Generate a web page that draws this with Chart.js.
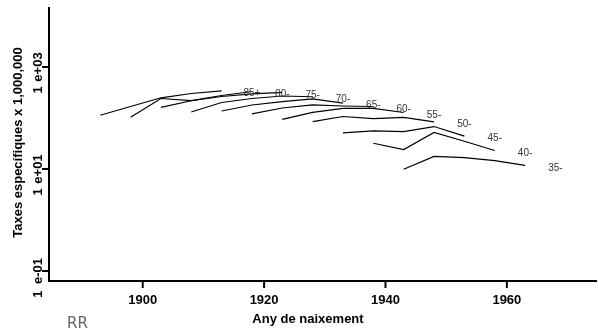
<!DOCTYPE html>
<html>
<head>
<meta charset="utf-8">
<script src="https://cdn.jsdelivr.net/npm/chart.js@4"></script>
<style>
html, body { margin:0; padding:0; background:#fff; }
canvas { display:block; }
</style>
</head>
<body>
<canvas id="apc" width="598" height="331"></canvas>
<script>
// age groups, cohort years (x) and rates per 1,000,000 (y)
var ageGroups = ['35-','40-','45-','50-','55-','60-','65-','70-','75-','80-','85+'];

var cohorts35 = [1943,1948,1953,1958,1963];
var cohorts40 = [1938,1943,1948,1953,1958];
var cohorts45 = [1933,1938,1943,1948,1953];
var cohorts50 = [1928,1933,1938,1943,1948];
var cohorts55 = [1923,1928,1933,1938,1943];
var cohorts60 = [1918,1923,1928,1933,1938];
var cohorts65 = [1913,1918,1923,1928,1933];
var cohorts70 = [1908,1913,1918,1923,1928];
var cohorts75 = [1903,1908,1913,1918,1923];
var cohorts80 = [1898,1903,1908,1913,1918];
var cohorts85 = [1893,1898,1903,1908,1913];

var rates35 = [9.9,17.6,16.7,14.6,11.8];
var rates40 = [32,24,52,35,23];
var rates45 = [51,56,54,68,44];
var rates50 = [85,107,97,103,84];
var rates55 = [94,129,154,155,128];
var rates60 = [120,157,180,172,168];
var rates65 = [137,180,209,236,195];
var rates70 = [131,201,241,270,261];
var rates75 = [162,218,264,296,319];
var rates80 = [103,241,220,276,331];
var rates85 = [113,168,249,302,341];

var xTicks = [1900,1920,1940,1960];
var yTicks = [0.1,10,1000];
var yTickLabels = ['e-01','e+01','e+03'];

var allCohorts = [cohorts35,cohorts40,cohorts45,cohorts50,cohorts55,cohorts60,cohorts65,cohorts70,cohorts75,cohorts80,cohorts85];
var allRates = [rates35,rates40,rates45,rates50,rates55,rates60,rates65,rates70,rates75,rates80,rates85];

var datasets = [];
ageGroups.forEach(function(g, i){
    var pts = [];
    for(var k = 0; k < allCohorts[i].length; k++){
        pts.push({x: allCohorts[i][k], y: allRates[i][k]});
    }
    datasets.push({
        label: g,
        data: pts,
        borderColor: '#000',
        borderWidth: 1.2,
        pointRadius: 0,
        tension: 0,
        fill: false
    });
});

var axesPlugin = {
    id: 'axesPlugin',
    afterDraw: function(chart){
        var c = chart.ctx;
        var xs = chart.scales.x, ys = chart.scales.y;
        var a = chart.chartArea;
        c.save();
        c.strokeStyle = '#000';
        c.fillStyle = '#000';
        c.lineWidth = 2;
        // axis lines
        c.beginPath();
        c.moveTo(a.left, a.top);
        c.lineTo(a.left, a.bottom);
        c.lineTo(a.right, a.bottom);
        c.stroke();

        // x ticks
        c.font = 'bold 13px "Liberation Sans", Arial, sans-serif';
        c.textAlign = 'center';
        c.textBaseline = 'middle';
        xTicks.forEach(function(t){
            var px = xs.getPixelForValue(t);
            c.beginPath();
            c.moveTo(px, a.bottom);
            c.lineTo(px, a.bottom + 7);
            c.stroke();
            c.fillText(String(t), px, 300);
        });

        // y ticks, rotated labels
        yTicks.forEach(function(t, i){
            var py = ys.getPixelForValue(t);
            c.beginPath();
            c.moveTo(a.left, py);
            c.lineTo(a.left - 7, py);
            c.stroke();
            c.save();
            c.translate(38, py);
            c.rotate(-Math.PI/2);
            c.fillText(yTickLabels[i], 0, 0);
            c.fillText('1', -23, 0);
            c.restore();
        });

        // titles
        c.fillText('Any de naixement', 308, 319);
        c.save();
        c.translate(18.5, 142.5);
        c.rotate(-Math.PI/2);
        c.fillText('Taxes específiques x 1,000,000', 0, 0);
        c.restore();

        // age group labels at end of each line
        c.font = '10px "Liberation Sans", Arial, sans-serif';
        c.fillStyle = '#333';
        ageGroups.forEach(function(g, i){
            var n = allCohorts[i].length - 1;
            var px = xs.getPixelForValue(allCohorts[i][n] + 5);
            var py = ys.getPixelForValue(allRates[i][n]) + 2.5;
            c.fillText(g, px, py);
        });

        c.font = '15px "DejaVu Sans", sans-serif';
        c.fillStyle = '#666';
        c.textAlign = 'left';
        c.fillText('RR', 67, 324);
        c.restore();
    }
};

var ctx = document.getElementById('apc').getContext('2d');
var apcChart = new Chart(ctx, {
    type: 'line',
    data: { datasets: datasets },
    options: {
        responsive: false,
        animation: false,
        layout: { padding: { left: 49, top: 7, right: 1, bottom: 50 } },
        plugins: { legend: { display: false }, tooltip: { enabled: false } },
        scales: {
            x: { type: 'linear', min: 1884.56, max: 1974.85, display: false },
            y: { type: 'logarithmic', min: 0.0637, max: 15000, display: false }
        }
    },
    plugins: [axesPlugin]
});
</script>
</body>
</html>
